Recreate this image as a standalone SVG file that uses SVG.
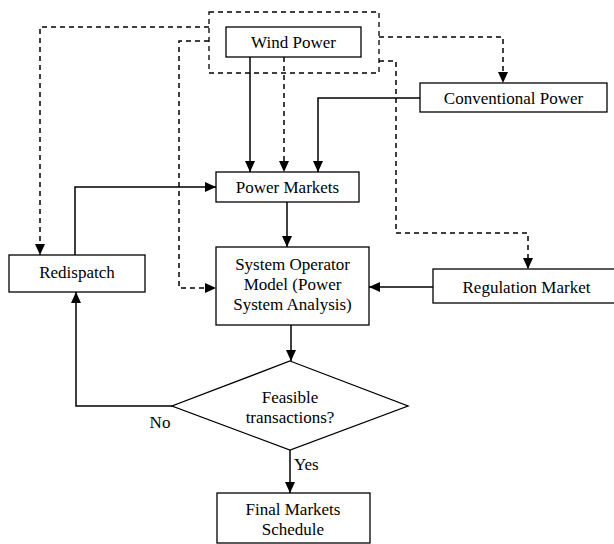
<svg xmlns="http://www.w3.org/2000/svg" width="614" height="544" viewBox="0 0 614 544">
<defs>
<marker id="ah" markerUnits="userSpaceOnUse" markerWidth="12" markerHeight="12" refX="11" refY="5" orient="auto"><path d="M0,0 L11,5 L0,10 Z" fill="#000"/></marker>
<style>
.box{fill:#fff;stroke:#000;stroke-width:1.3}
.t{font-family:"Liberation Serif","Times New Roman",serif;font-size:17px;fill:#000;text-anchor:middle}
.s{fill:none;stroke:#000;stroke-width:1.5}
.d{fill:none;stroke:#000;stroke-width:1.5;stroke-dasharray:5,4}
</style>
</defs>
<rect x="0" y="0" width="614" height="544" fill="#fff"/>
<g id="wind-group"><rect x="209" y="12" width="170" height="61" fill="none" stroke="#000" stroke-width="1.3" stroke-dasharray="5,4"/></g>
<g id="connectors">
<path class="d" d="M209,27 H40 V255" marker-end="url(#ah)"/>
<path class="d" d="M209,41 H179 V288 H216" marker-end="url(#ah)"/>
<path class="s" d="M250,57 V172" marker-end="url(#ah)"/>
<path class="d" d="M284,57 V172" marker-end="url(#ah)"/>
<path class="s" d="M420,98 H318 V172" marker-end="url(#ah)"/>
<path class="d" d="M379,37 H503 V83" marker-end="url(#ah)"/>
<path class="d" d="M379,61 H396 V233 H528 V269" marker-end="url(#ah)"/>
<path class="s" d="M75,255 V187 H216" marker-end="url(#ah)"/>
<path class="s" d="M287,202 V247" marker-end="url(#ah)"/>
<path class="s" d="M433,287 H369" marker-end="url(#ah)"/>
<path class="s" d="M291,325 V361" marker-end="url(#ah)"/>
<path class="s" d="M172,406 H76 V292" marker-end="url(#ah)"/>
<path class="s" d="M290,450 V493" marker-end="url(#ah)"/>
<text class="t" x="160" y="428">No</text>
<text class="t" x="294" y="470" style="text-anchor:start">Yes</text>
</g>
<g id="wind"><rect class="box" x="226" y="27" width="135" height="30"/><text class="t" x="293.5" y="48">Wind Power</text></g>
<g id="conventional"><rect class="box" x="420" y="83" width="187" height="29"/><text class="t" x="513.5" y="104">Conventional Power</text></g>
<g id="markets"><rect class="box" x="216" y="172" width="143" height="30"/><text class="t" x="287.5" y="193">Power Markets</text></g>
<g id="redispatch"><rect class="box" x="9" y="255" width="136" height="37"/><text class="t" x="77" y="278">Redispatch</text></g>
<g id="sysop"><rect class="box" x="216" y="247" width="153" height="78"/><text class="t" x="292.5" y="270">System Operator</text><text class="t" x="292.5" y="290">Model (Power</text><text class="t" x="292.5" y="310">System Analysis)</text></g>
<g id="regulation"><rect class="box" x="433" y="269" width="190" height="34"/><text class="t" x="526.5" y="293">Regulation Market</text></g>
<g id="feasible"><polygon class="box" points="290,361 408,406 290,450 172,406"/><text class="t" x="290" y="403">Feasible</text><text class="t" x="290" y="423">transactions?</text></g>
<g id="final"><rect class="box" x="217" y="493" width="153" height="50"/><text class="t" x="293" y="515">Final Markets</text><text class="t" x="293" y="535">Schedule</text></g>
</svg>
